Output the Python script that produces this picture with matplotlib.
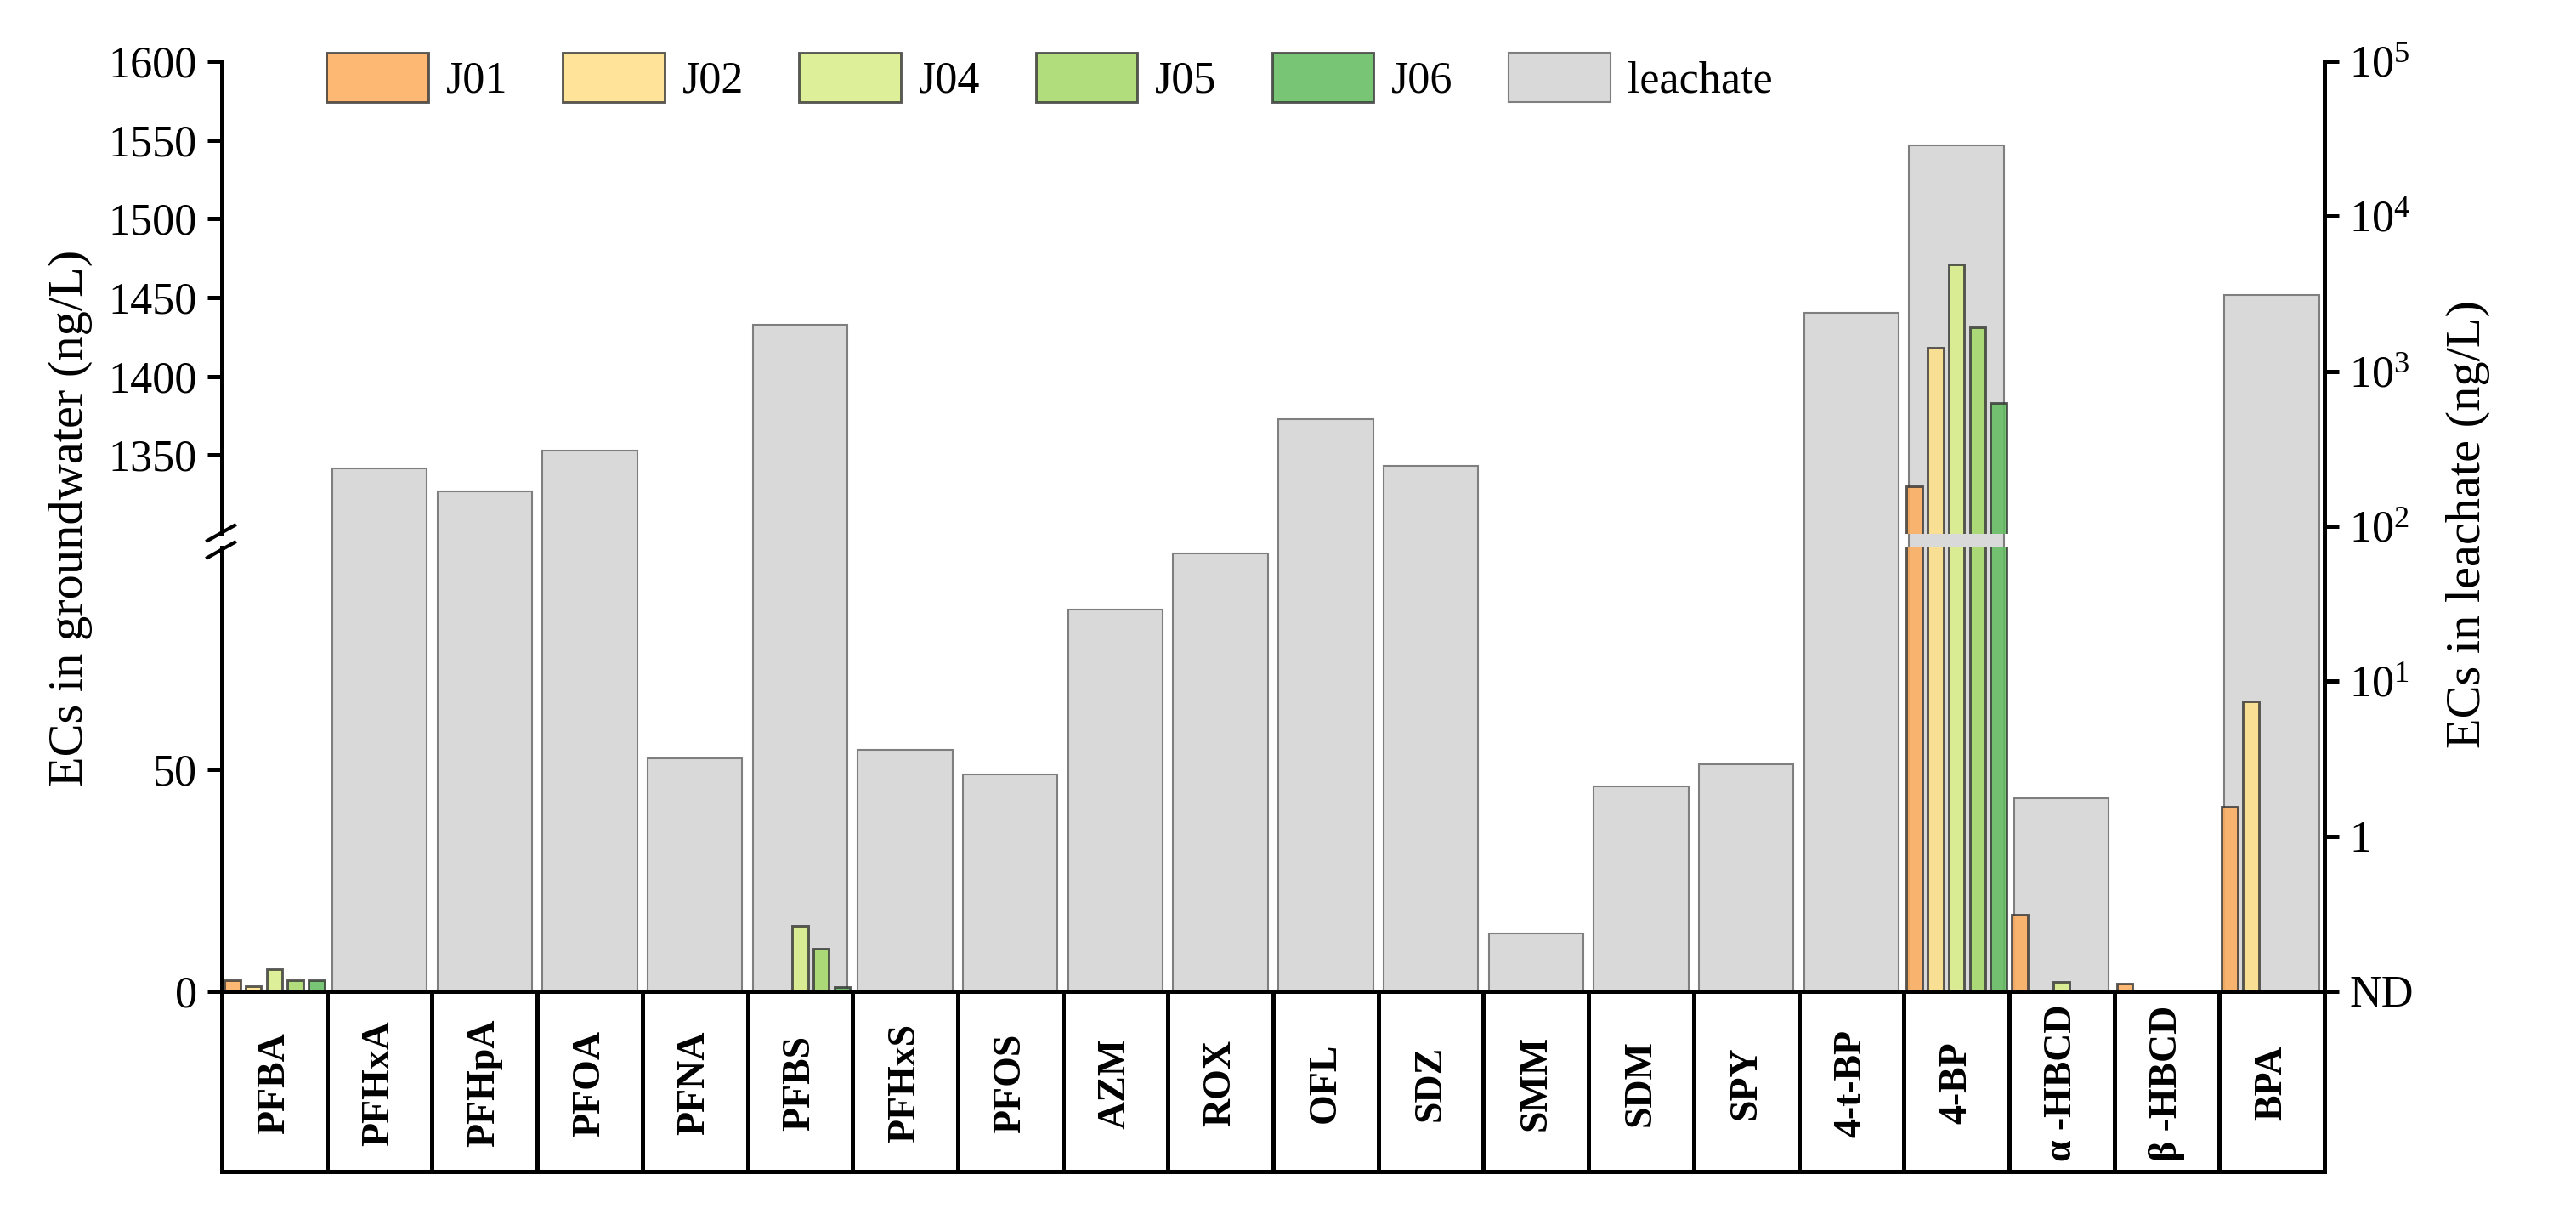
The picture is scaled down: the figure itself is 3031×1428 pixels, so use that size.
import numpy as np
import matplotlib
matplotlib.use('Agg')
import matplotlib.pyplot as plt
from matplotlib.lines import Line2D
from matplotlib.patches import Patch
from matplotlib import transforms
from matplotlib.colors import to_rgba

plt.rcParams['font.family'] = ['Liberation Serif', 'DejaVu Serif']
plt.rcParams['mathtext.fontset'] = 'custom'
plt.rcParams['mathtext.rm'] = 'Liberation Serif'
plt.rcParams['mathtext.it'] = 'Liberation Serif:italic'

# data (ng/L), 0 = not detected
compounds = ['PFBA', 'PFHxA', 'PFHpA', 'PFOA', 'PFNA', 'PFBS', 'PFHxS', 'PFOS', 'AZM', 'ROX',
             'OFL', 'SDZ', 'SMM', 'SDM', 'SPY', '4-t-BP', '4-BP', 'α -HBCD', 'β -HBCD', 'BPA']
sites = ['J01', 'J02', 'J04', 'J05', 'J06']
J01 = [2.5, 0, 0, 0, 0, 0, 0, 0, 0, 0, 0, 0, 0, 0, 0, 0, 1330, 17.2, 1.7, 41.6]
J02 = [1.2, 0, 0, 0, 0, 0, 0, 0, 0, 0, 0, 0, 0, 0, 0, 0, 1418, 0, 0, 65.3]
J04 = [5.0, 0, 0, 0, 0, 14.7, 0, 0, 0, 0, 0, 0, 0, 0, 0, 0, 1471, 2.1, 0, 0]
J05 = [2.5, 0, 0, 0, 0, 9.5, 0, 0, 0, 0, 0, 0, 0, 0, 0, 0, 1431, 0, 0, 0]
J06 = [2.5, 0, 0, 0, 0, 0.9, 0, 0, 0, 0, 0, 0, 0, 0, 0, 0, 1383, 0, 0, 0]
leachate = [0, 236, 167, 309, 3.2, 1990, 3.6, 2.5, 29, 67, 490, 246, 0.235, 2.1, 2.9,
            2370, 28700, 1.76, 0, 3100]
site_colors = ['#FDAE61', '#FEE08B', '#D9EF8B', '#A6D96A', '#66BD63']

fig = plt.figure(figsize=(3031 / 300, 1428 / 300), dpi=300)

L, R = 261 / 3031, 2735 / 3031
def fy(px):
    return (1428 - px) / 1428

# leachate on log axis (right)
ax_g = fig.add_axes([L, fy(1166), R - L, fy(72) - fy(1166)])
# groundwater on broken left axis
ax_b = fig.add_axes([L, fy(1166), R - L, fy(644) - fy(1166)])
ax_t = fig.add_axes([L, fy(628), R - L, fy(72) - fy(628)])

x = np.arange(len(compounds)) + 0.5
lv = np.array(leachate, dtype=float)
m = lv > 0
ax_g.bar(x[m], lv[m] - 0.1, bottom=0.1, width=0.9, color='#D9D9D9',
         edgecolor='#7F7F7F', linewidth=0.5)
ax_g.set_yscale('log')
ax_g.set_ylim(0.1, 1e5)
ax_g.set_xlim(0, len(compounds))
ax_g.yaxis.tick_right()
ax_g.set_yticks([0.1, 1, 10, 100, 1e3, 1e4, 1e5])
ax_g.set_yticklabels(['ND', '1', r'$10^1$', r'$10^2$', r'$10^3$', r'$10^4$', r'$10^5$'])
ax_g.minorticks_off()
ax_g.set_xticks([])
for s in ['left', 'top', 'bottom']:
    ax_g.spines[s].set_visible(False)
ax_g.spines['right'].set_linewidth(1.2)
ax_g.tick_params(axis='y', which='major', direction='out', length=4, width=1.2,
                 labelsize=12.5, pad=3)

offsets = [-0.4, -0.2, 0.0, 0.2, 0.4]
series = [J01, J02, J04, J05, J06]
for ax in (ax_b, ax_t):
    ax.patch.set_alpha(0)
    for vals, off, c in zip(series, offsets, site_colors):
        v = np.array(vals, dtype=float)
        k = v > 0
        ax.bar(x[k] + off, v[k], width=0.15, color=to_rgba(c, 0.88),
               edgecolor=to_rgba('#333333', 0.8), linewidth=0.7)
    ax.set_xlim(0, len(compounds))
    ax.set_xticks([])
    ax.spines['top'].set_visible(False)
    ax.spines['right'].set_visible(False)
    ax.spines['left'].set_linewidth(1.2)
    ax.tick_params(axis='y', direction='out', length=4, width=1.2, labelsize=12.5, pad=3)

ax_b.set_ylim(0, 100)
ax_b.set_yticks([0, 50])
ax_b.spines['bottom'].set_linewidth(1.2)
ax_t.set_ylim(1300, 1600)
ax_t.set_yticks([1350, 1400, 1450, 1500, 1550, 1600])
ax_t.spines['bottom'].set_visible(False)

# break marks on the left axis
for y0, y1 in [(636, 618), (656, 638)]:
    fig.add_artist(Line2D([244 / 3031, 276 / 3031], [fy(y0), fy(y1)], color='k',
                          lw=1.0, transform=fig.transFigure))

# category table under the axis
tr = transforms.blended_transform_factory(ax_b.transData, fig.transFigure)
for i in range(len(compounds) + 1):
    fig.add_artist(Line2D([i, i], [fy(1166), fy(1378)], color='k', lw=1.2,
                          transform=tr, solid_capstyle='projecting'))
fig.add_artist(Line2D([0, len(compounds)], [fy(1378), fy(1378)], color='k', lw=1.2,
                      transform=tr, solid_capstyle='projecting'))
for xi, name in zip(x, compounds):
    fig.text(xi, fy(1274), name, transform=tr, rotation=90, ha='center', va='center',
             fontsize=11, fontweight='bold')

fig.text(83 / 3031, fy(609), 'ECs in groundwater (ng/L)', rotation=90, ha='center',
         va='center', fontsize=14)
fig.text(2904 / 3031, fy(617), 'ECs in leachate (ng/L)', rotation=90, ha='center',
         va='center', fontsize=14)

handles = [Patch(facecolor=to_rgba(c, 0.88), edgecolor=to_rgba('#333333', 0.8), linewidth=0.7)
           for c in site_colors]
handles.append(Patch(facecolor='#D9D9D9', edgecolor='#7F7F7F', linewidth=0.5))
fig.legend(handles, sites + ['leachate'], loc='upper left', ncol=6,
           bbox_to_anchor=(384 / 3031, fy(62)), frameon=False, fontsize=12.5,
           handlelength=2.3, handleheight=1.35, handletextpad=0.4, columnspacing=1.25,
           borderpad=0, borderaxespad=0)

fig.savefig('out.png', dpi=300)
